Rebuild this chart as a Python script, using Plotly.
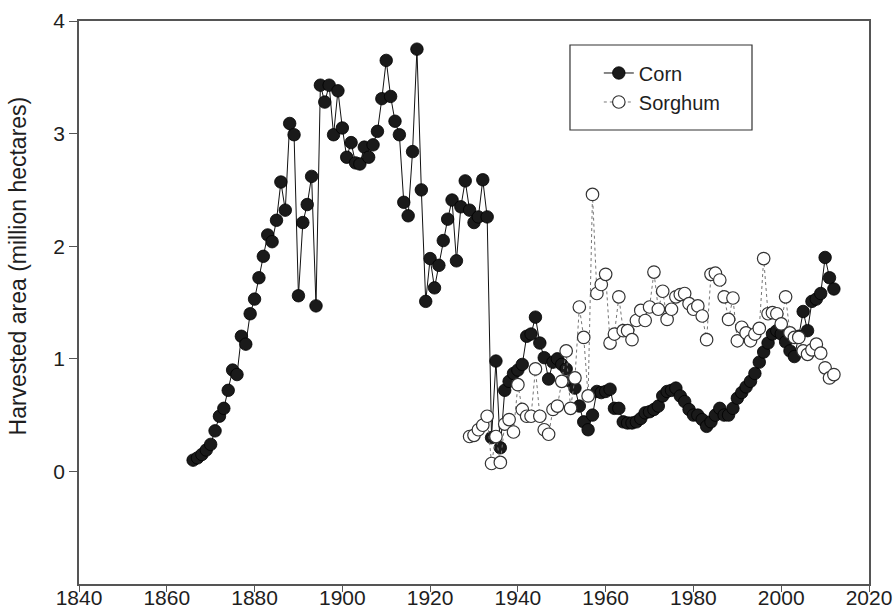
import plotly.graph_objects as go

corn_years = list(range(1866, 2013))
corn_area = [
    0.10, 0.12, 0.15, 0.19, 0.24, 0.36, 0.49, 0.56, 0.72, 0.90,   # 1866-1875
    0.86, 1.20, 1.13, 1.40, 1.53, 1.72, 1.91, 2.10, 2.04, 2.23,   # 1876-1885
    2.57, 2.32, 3.09, 2.99, 1.56, 2.21, 2.37, 2.62, 1.47, 3.43,   # 1886-1895
    3.28, 3.43, 2.99, 3.38, 3.05, 2.79, 2.92, 2.74, 2.73, 2.88,   # 1896-1905
    2.79, 2.90, 3.02, 3.31, 3.65, 3.33, 3.11, 2.99, 2.39, 2.27,   # 1906-1915
    2.84, 3.75, 2.50, 1.51, 1.89, 1.63, 1.83, 2.05, 2.24, 2.41,   # 1916-1925
    1.87, 2.35, 2.58, 2.32, 2.21, 2.26, 2.59, 2.26, 0.30, 0.98,   # 1926-1935
    0.21, 0.72, 0.80, 0.87, 0.90, 0.95, 1.20, 1.22, 1.37, 1.14,   # 1936-1945
    1.01, 0.82, 0.97, 1.00, 0.95, 0.91, 0.80, 0.74, 0.58, 0.44,   # 1946-1955
    0.37, 0.50, 0.71, 0.70, 0.71, 0.73, 0.56, 0.56, 0.44, 0.43,   # 1956-1965
    0.43, 0.44, 0.47, 0.52, 0.53, 0.55, 0.58, 0.67, 0.71, 0.72,   # 1966-1975
    0.74, 0.67, 0.62, 0.55, 0.50, 0.50, 0.46, 0.40, 0.44, 0.50,   # 1976-1985
    0.56, 0.50, 0.50, 0.56, 0.65, 0.70, 0.75, 0.80, 0.87, 0.97,   # 1986-1995
    1.06, 1.14, 1.22, 1.25, 1.22, 1.15, 1.07, 1.02, 1.20, 1.42,   # 1996-2005
    1.25, 1.51, 1.53, 1.58, 1.90, 1.72, 1.62,                     # 2006-2012
]

sorghum_years = list(range(1929, 2013))
sorghum_area = [
    0.31, 0.32, 0.37, 0.41, 0.49, 0.07, 0.31, 0.08, 0.42, 0.46,   # 1929-1938
    0.35, 0.77, 0.55, 0.49, 0.49, 0.91, 0.49, 0.37, 0.33, 0.55,   # 1939-1948
    0.58, 0.80, 1.07, 0.56, 0.83, 1.46, 1.19, 0.67, 2.46, 1.58,   # 1949-1958
    1.66, 1.75, 1.14, 1.22, 1.55, 1.25, 1.25, 1.17, 1.34, 1.43,   # 1959-1968
    1.34, 1.46, 1.77, 1.44, 1.60, 1.35, 1.44, 1.55, 1.57, 1.58,   # 1969-1978
    1.49, 1.44, 1.47, 1.38, 1.17, 1.75, 1.76, 1.70, 1.55, 1.35,   # 1979-1988
    1.54, 1.16, 1.28, 1.23, 1.16, 1.22, 1.27, 1.89, 1.40, 1.41,   # 1989-1998
    1.40, 1.31, 1.55, 1.23, 1.19, 1.19, 1.07, 1.04, 1.08, 1.13,   # 1999-2008
    1.05, 0.92, 0.83, 0.86,                                       # 2009-2012
]

x_ticks = [1840, 1860, 1880, 1900, 1920, 1940, 1960, 1980, 2000, 2020]
y_ticks = [0, 1, 2, 3, 4]

FONT = "Liberation Sans, Arial, sans-serif"
AXIS_COLOR = "#555555"
TEXT_COLOR = "#1e1e1e"

fig = go.Figure()
fig.add_trace(go.Scatter(
    x=corn_years, y=corn_area, name="Corn", mode="lines+markers",
    legendgroup="corn",
    line=dict(color="#111111", width=1),
    marker=dict(symbol="circle", size=12.5, color="#1a1a1a",
                line=dict(color="#000000", width=0.8)),
))
fig.add_trace(go.Scatter(
    x=sorghum_years, y=sorghum_area, name="Sorghum", mode="lines+markers",
    legendgroup="sorghum",
    line=dict(color="#777777", width=1, dash="dot"),
    marker=dict(symbol="circle", size=12.5, color="#ffffff",
                line=dict(color="#333333", width=1.2)),
))

# legend frame (page px: x 570-752, y 45-130) in paper coords
fig.add_shape(type="rect", xref="paper", yref="paper",
              x0=0.6215, x1=0.8519, y0=0.8064, y1=0.9574,
              line=dict(color="#333333", width=1.2), fillcolor="white", layer="below")

fig.update_layout(
    width=895, height=611,
    margin=dict(l=79, r=26, t=21, b=27),
    paper_bgcolor="white", plot_bgcolor="white",
    font=dict(family=FONT, size=20, color=TEXT_COLOR),
    showlegend=True,
    legend=dict(
        x=0.658, y=0.9423, xanchor="left", yanchor="top",
        borderwidth=0, bgcolor="rgba(0,0,0,0)",
        font=dict(family=FONT, size=20, color=TEXT_COLOR),
        tracegroupgap=0,
    ),
    xaxis=dict(
        range=[1840, 2020], tickvals=x_ticks, ticktext=[str(v) for v in x_ticks],
        showgrid=False, zeroline=False, automargin=False,
        showline=True, linecolor=AXIS_COLOR, linewidth=1.5, mirror=True,
        ticks="outside", ticklen=6, tickwidth=1.2, tickcolor=AXIS_COLOR,
        ticklabelstandoff=-12,
        tickfont=dict(family=FONT, size=21, color=TEXT_COLOR),
    ),
    yaxis=dict(
        range=[-1, 4], tickvals=y_ticks, ticktext=[str(v) for v in y_ticks],
        showgrid=False, zeroline=False, automargin=False,
        showline=True, linecolor=AXIS_COLOR, linewidth=1.5, mirror=True,
        ticks="outside", ticklen=8, tickwidth=1.2, tickcolor=AXIS_COLOR,
        tickfont=dict(family=FONT, size=21, color=TEXT_COLOR),
    ),
    annotations=[dict(
        text="Harvested area (million hectares)", textangle=-90,
        xref="paper", yref="paper", x=-0.0772, y=0.5640,
        xanchor="center", yanchor="middle", showarrow=False,
        font=dict(family=FONT, size=23, color=TEXT_COLOR),
    )],
)

fig.write_html(
    "out.html",
    config={"displayModeBar": False},
    post_script="document.body.style.margin='0px';document.body.style.overflow='hidden';",
)
